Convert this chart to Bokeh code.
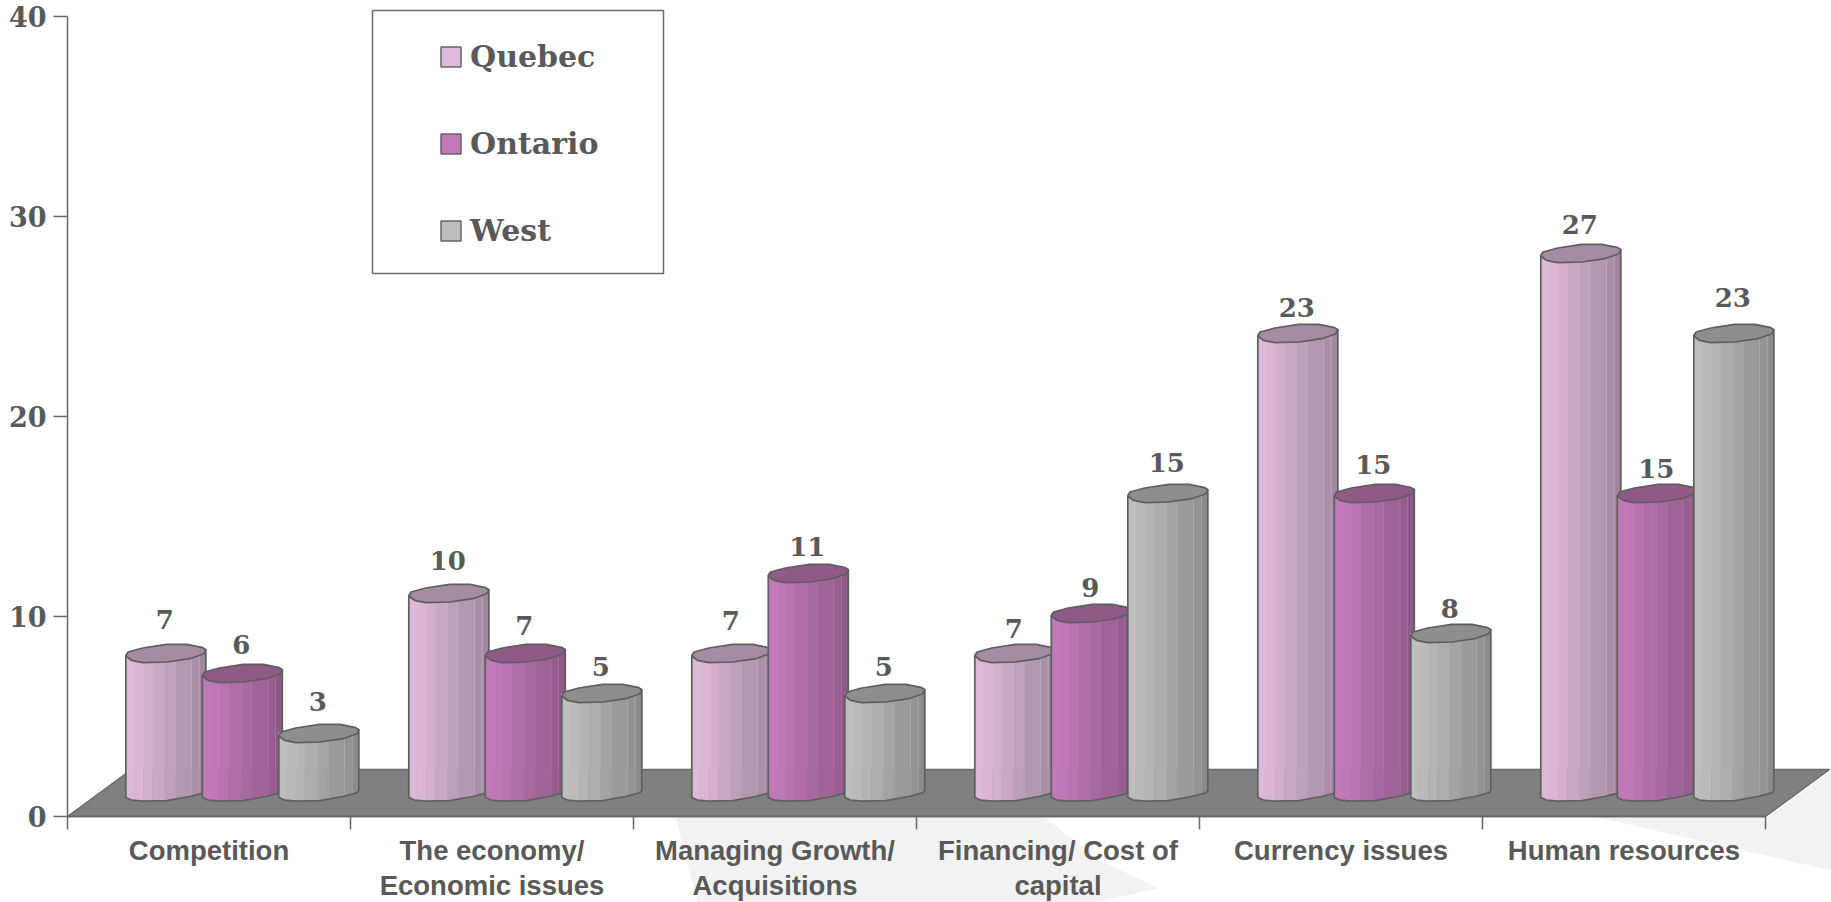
from bokeh.plotting import figure
from bokeh.models import (ColumnDataSource, LinearAxis, FixedTicker, Legend, LegendItem)
from bokeh.core.properties import value
from bokeh.embed import file_html
from bokeh.resources import INLINE

# ---- data ----
categories = ["Competition", "The economy/\nEconomic issues", "Managing Growth/\nAcquisitions",
              "Financing/ Cost of\ncapital", "Currency issues", "Human resources"]
quebec = [7, 10, 7, 7, 23, 27]
ontario = [6, 7, 11, 9, 15, 15]
west = [3, 5, 5, 15, 8, 23]
series_names = ["Quebec", "Ontario", "West"]
y_ticks = [0, 10, 20, 30, 40]
series_values = [quebec, ontario, west]

# ---- styling ----
side_colors = [(221, 185, 217), (194, 121, 185), (190, 190, 190)]
cap_colors = ["#A58BA3", "#8F5A88", "#8E8E8E"]
swatch_colors = ["#DFBBDA", "#C279B9", "#BEBEBE"]
TEXT = "#595959"
EDGE = "#5E5E5E"
FLOOR = "#808080"
WASH = "#F2F2F2"
# lift of each value label above its value, in value units
label_lift = [[2.86, 2.78, 2.80, 2.39, 2.44, 2.59],
              [2.62, 2.56, 2.48, 2.43, 2.62, 2.39],
              [2.76, 2.52, 2.52, 2.68, 2.38, 2.97]]

PX_X = 283.0   # pixels per category
PX_Y = 20.0    # pixels per value unit
ORIGIN = (67, 816)  # page pixel of category 0 / value 0

def dx(px): return px / PX_X
def dy(px): return px / PX_Y
def page_x(px): return (px - ORIGIN[0]) / PX_X
def page_y(py): return (ORIGIN[1] - py) / PX_Y

p = figure(width=1831, height=902, output_backend="svg", toolbar_location=None,
           x_range=(page_x(0), page_x(1831)), y_range=(page_y(902), page_y(0)),
           x_axis_location=None, y_axis_location=None,
           min_border=0, min_border_left=0, min_border_right=0, min_border_top=0, min_border_bottom=0,
           outline_line_color=None, background_fill_color="white", border_fill_color="white")
p.grid.visible = False

# pale wash behind the lower part of the chart
wash_x = [[page_x(a) for a in (675, 697, 1091, 1158, 1100, 1043)],
          [page_x(a) for a in (1593, 1831, 1831, 1768)]]
wash_y = [[page_y(a) for a in (816, 902, 902, 888, 860, 816)],
          [page_y(a) for a in (816, 870, 771, 816)]]
p.patches(wash_x, wash_y, fill_color=WASH, line_color=None)

# floor of the 3-D plot
floor_depth_x, floor_depth_y = dx(64), dy(47)
p.patch([0, 6, 6 + floor_depth_x, floor_depth_x], [0, 0, floor_depth_y, floor_depth_y],
        fill_color=FLOOR, line_color="#6A6A6A", line_width=1.5)

# cylinder profile in pixels (relative to the left point of the rim)
BAR_W = 80.0
BAR_STEP = 76.5
GROUP_LEFT = 58.3
BASE = 19.0
RIM_LIFT = 1.5
rim_upper = [(0, 0), (2.3, 4), (17, 8), (41, 11.7), (61, 11.7), (77, 8.3), (80, 6.3)]
rim_lower = [(80, 6.3), (78, 2.3), (64, -2.7), (41, -6), (17, -6.7), (5.7, -4.3), (0, 0)]
foot = [(0, 0), (5.7, -2.6), (17, -3.6), (41, -3.2), (64, 1), (78, 4.6), (80, 7)]

def foot_y(px):
    for (a, b), (c, d) in zip(foot, foot[1:]):
        if a <= px <= c:
            return b + (d - b) * (px - a) / (c - a)
    return foot[-1][1]

strip_edges = [0, 8, 17.5, 26.5, 39, 49, 65.5, 73.5, 80]
strip_shade = [1.0, 0.985, 0.95, 0.91, 0.865, 0.815, 0.775, 0.735]
seam_at = [8, 49, 65.5, 73]

def shade(rgb, f):
    return "#%02X%02X%02X" % tuple(min(255, int(round(c * f))) for c in rgb)

xs, ys, fills, lines, fill_alpha, line_alpha, widths = [], [], [], [], [], [], []
def add(x, y, fill, line, fa, la, w):
    xs.append(x); ys.append(y); fills.append(fill); lines.append(line)
    fill_alpha.append(fa); line_alpha.append(la); widths.append(w)

label_x, label_y, label_text = [], [], []
for s, vals in enumerate(series_values):
    for c, v in enumerate(vals):
        left = c + dx(GROUP_LEFT + s * BAR_STEP)
        base_y = dy(BASE)
        top_y = v + base_y + dy(RIM_LIFT)
        # stripes of the side of the cylinder
        for i in range(len(strip_shade)):
            a, b = strip_edges[i], strip_edges[i + 1]
            pts = [a] + [q[0] for q in foot if a < q[0] < b] + [b]
            x = [left + dx(t) for t in pts] + [left + dx(b), left + dx(a)]
            y = [base_y + dy(foot_y(t)) for t in pts] + [top_y + dy(3), top_y + dy(3)]
            col = shade(side_colors[s], strip_shade[i])
            add(x, y, col, col, 1, 1, 0.5)
        # thin light seams
        for t in seam_at:
            x = [left + dx(t), left + dx(t + 0.7), left + dx(t + 0.7), left + dx(t)]
            y = [base_y + dy(foot_y(t)), base_y + dy(foot_y(t)), top_y, top_y]
            add(x, y, shade(side_colors[s], 1.0), None, 0.55, 0, 0)
        # outline of the side
        ox = [left] + [left + dx(q[0]) for q in foot] + [left + dx(BAR_W)]
        oy = [top_y] + [base_y + dy(q[1]) for q in foot] + [top_y + dy(6.3)]
        add(ox, oy, "white", EDGE, 0, 1, 1.7)
        # rim
        rim = rim_upper + rim_lower[1:]
        add([left + dx(q[0]) for q in rim], [top_y + dy(q[1]) for q in rim],
            cap_colors[s], EDGE, 1, 1, 1.7)
        label_x.append(left + dx(BAR_W / 2 - 1))
        label_y.append(v + label_lift[s][c])
        label_text.append(str(v))

src = ColumnDataSource(dict(xs=xs, ys=ys, fill=fills, line=lines, fa=fill_alpha, la=line_alpha, w=widths))
p.patches("xs", "ys", source=src, fill_color="fill", line_color="line",
          fill_alpha="fa", line_alpha="la", line_width="w", line_join="round")

p.text(label_x, label_y, text=label_text, text_align="center", text_baseline="middle",
       text_font=value("DejaVu Serif"), text_font_style="bold", text_font_size="26px", text_color=TEXT)

# axes
yaxis = LinearAxis(fixed_location=0, ticker=FixedTicker(ticks=y_ticks), bounds=(0, 40),
                   axis_line_color="#666666", axis_line_width=1.5,
                   major_tick_line_color="#666666", major_tick_line_width=1.5,
                   major_tick_in=0, major_tick_out=14, minor_tick_line_color=None,
                   major_label_standoff=7, major_label_text_color=TEXT,
                   major_label_text_font="DejaVu Serif", major_label_text_font_style="bold",
                   major_label_text_font_size="27px")
p.add_layout(yaxis, "left")

centres = [i + 0.5 for i in range(len(categories))]
boundaries = list(range(len(categories) + 1))
xaxis = LinearAxis(fixed_location=0, ticker=FixedTicker(ticks=centres, minor_ticks=boundaries), bounds=(0, 6),
                   major_label_overrides={c: n for c, n in zip(centres, categories)},
                   axis_line_color="#666666", axis_line_width=1.5,
                   major_tick_line_color=None, major_tick_in=0, major_tick_out=0,
                   minor_tick_line_color="#666666", minor_tick_line_width=1.5,
                   minor_tick_in=0, minor_tick_out=13,
                   major_label_standoff=5, major_label_text_color=TEXT,
                   major_label_text_font="Liberation Sans", major_label_text_font_style="bold",
                   major_label_text_font_size="27.5px", major_label_text_line_height=1.15,
                   major_label_orientation="horizontal")
p.add_layout(xaxis, "below")

# legend box and legend
p.quad(left=[page_x(372)], right=[page_x(663)], top=[page_y(10)], bottom=[page_y(273)],
       fill_color="white", line_color="#6A6A6A", line_width=1.5)
nan = float("nan")
items = []
for name, col in zip(series_names, swatch_colors):
    r = p.quad(left=[nan], right=[nan], top=[nan], bottom=[nan], fill_color=col,
               line_color="#666666", line_width=1.5)
    items.append(LegendItem(label=name, renderers=[r]))
legend = Legend(items=items, location=(438, 654), orientation="vertical", padding=0, margin=0,
                spacing=52, glyph_width=25, glyph_height=25, label_standoff=7, label_height=30,
                background_fill_alpha=0, border_line_color=None,
                label_text_font="DejaVu Serif", label_text_font_style="bold",
                label_text_font_size="30px", label_text_color=TEXT)
p.add_layout(legend)

open("out.html", "w").write(file_html(p, INLINE))
